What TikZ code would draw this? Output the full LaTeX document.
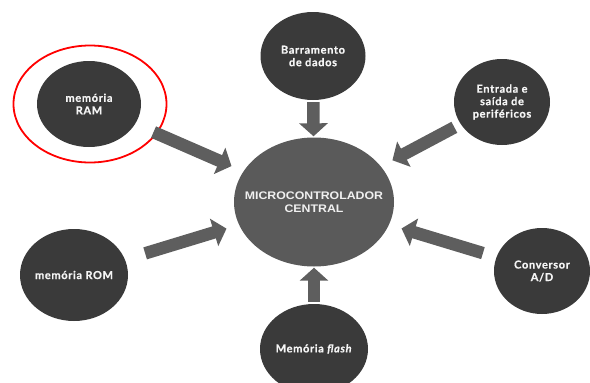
\documentclass[tikz,border=0pt]{standalone}
\usepackage{fontspec}
\usetikzlibrary{shapes.geometric,arrows.meta}
\newfontfamily\outerfont[LetterSpace=6,BoldFeatures={FakeBold=0.6},BoldItalicFeatures={FakeBold=0.6}]{Lato}
\newfontfamily\centerfont[FakeStretch=1.12]{Liberation Sans}
\definecolor{darkc}{HTML}{3A3A3A}
\definecolor{midc}{HTML}{5A5A5A}
\definecolor{arrc}{HTML}{5E5E5E}
\begin{document}
\begin{tikzpicture}[x=1pt,y=-1pt,
  outer/.style={ellipse, fill=darkc, inner sep=0pt},
  otext/.style={text=white!96!black, align=center, inner sep=0pt,
    font=\outerfont\bfseries\fontsize{11}{12.5}\selectfont},
  fat/.style={draw=arrc, line width=12.5pt, -{Triangle[width=28pt,length=13pt]}},
]
\useasboundingbox (0,0) rectangle (590,383);
\node[ellipse, draw=red, line width=1.8pt, minimum width=153pt, minimum height=117pt, inner sep=0pt] (redring) at (90,104) {};
\node[outer, minimum width=104pt, minimum height=86pt, label={[otext]center:memória\\RAM}] (ram) at (89,104) {};
\node[outer, minimum width=105pt, minimum height=88pt, label={[otext]center:Barramento\\de dados}] (barr) at (313,56) {};
\node[outer, minimum width=96pt, minimum height=86pt, label={[otext]center:Entrada e\\saída de\\periféricos}] (es) at (502,102) {};
\node[outer, minimum width=108pt, minimum height=92pt, label={[otext]center:memória ROM}] (rom) at (74,275) {};
\node[outer, minimum width=96pt, minimum height=86pt, label={[otext]center:Conversor\\A/D}] (conv) at (542,271) {};
\node[outer, minimum width=108pt, minimum height=90pt, label={[otext]center:Memória \textit{flash}}] (flash) at (314,349) {};
\node[ellipse, fill=midc, inner sep=0pt, minimum width=160pt, minimum height=129pt,
  label={[text=white!94!black, align=center, inner sep=0pt, font=\centerfont\bfseries\fontsize{11}{12.5}\selectfont]center:MICROCONTROLADOR\\CENTRAL}] (mc) at (314,202) {};
\draw[fat, shorten <=2pt, shorten >=1pt] (barr) -- (mc);
\draw[fat, shorten <=2pt, shorten >=1pt] (flash) -- (mc);
\draw[fat, shorten <=20pt, shorten >=13pt] (ram) -- (mc);
\draw[fat, shorten <=7pt, shorten >=13pt] (es) -- (mc);
\draw[fat, shorten <=21pt, shorten >=13pt] (rom) -- (mc);
\draw[fat, shorten <=14pt, shorten >=13pt] (conv) -- (mc);
\end{tikzpicture}
\end{document}
